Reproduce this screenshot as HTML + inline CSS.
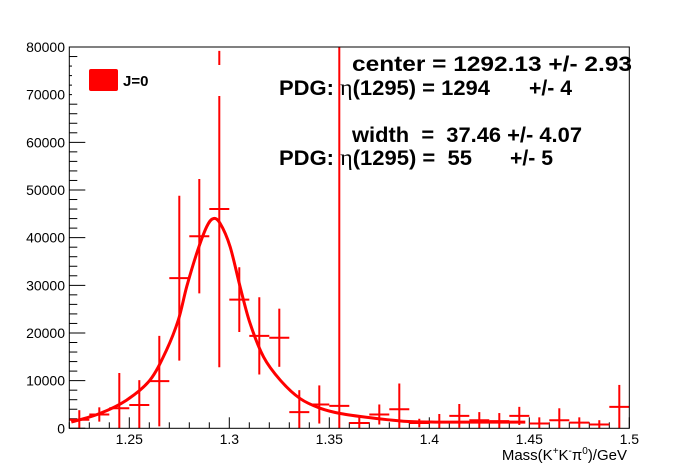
<!DOCTYPE html>
<html><head><meta charset="utf-8"><style>
html,body{margin:0;padding:0;background:#fff;width:698px;height:476px;overflow:hidden}
svg{display:block;font-family:"Liberation Sans",sans-serif}
</style></head><body>
<svg id="chart" width="698" height="476" viewBox="0 0 698 476">
<rect width="698" height="476" fill="#fff"/>
<g id="ticks"></g>
<g id="curve"></g>
<g id="pts"></g>
<rect x="72" y="65" width="160" height="31" fill="#fff"/>
<rect x="89" y="69" width="29" height="22" rx="2" fill="#ff0000"/>
<text x="123" y="86" font-size="15" font-weight="bold">J=0</text>
<rect x="69.3" y="47" width="560" height="381.3" fill="none" stroke="#000" stroke-width="1"/>
<g font-weight="bold" font-size="21">
<text x="352" y="71" xml:space="preserve" textLength="280" lengthAdjust="spacingAndGlyphs">center = 1292.13 +/- 2.93</text>
<text x="279" y="95" textLength="211" lengthAdjust="spacingAndGlyphs">PDG: <tspan font-family="Liberation Serif" font-weight="normal" font-size="23">η</tspan>(1295) = 1294</text>
<text x="529" y="95" textLength="43" lengthAdjust="spacingAndGlyphs">+/- 4</text>
<text x="352" y="142" xml:space="preserve" textLength="230" lengthAdjust="spacingAndGlyphs">width  =  37.46 +/- 4.07</text>
<text x="279" y="165" xml:space="preserve" textLength="193" lengthAdjust="spacingAndGlyphs">PDG: <tspan font-family="Liberation Serif" font-weight="normal" font-size="23">η</tspan>(1295) =  55</text>
<text x="510" y="165" textLength="43" lengthAdjust="spacingAndGlyphs">+/- 5</text>
</g>
<text x="627" y="460" font-size="15" text-anchor="end">Mass(K<tspan font-size="10" dy="-6">+</tspan><tspan dy="6">K</tspan><tspan font-size="10" dy="-6">-</tspan><tspan dy="6">π</tspan><tspan font-size="10" dy="-6">0</tspan><tspan dy="6">)/GeV</tspan></text>
</svg>
<script>
const binCenters=[1.225,1.235,1.245,1.255,1.265,1.275,1.285,1.295,1.305,1.315,1.325,1.335,1.345,1.355,1.365,1.375,1.385,1.395,1.405,1.415,1.425,1.435,1.445,1.455,1.465,1.475,1.485,1.495];
const counts=[1800,2900,4200,4900,9900,31500,40300,46000,27000,19400,19000,3400,5000,4700,1100,2900,4000,1100,1300,2600,1700,1500,2600,1000,1700,1200,800,4500];
const errors=[2000,1500,7400,5200,9500,17300,12000,33200,6800,8100,6100,4600,4000,90000,1300,2100,5400,900,1700,2500,1700,1700,1900,1300,2500,1100,900,4600];
const fitX=[1.221,1.2352,1.2486,1.2603,1.2686,1.2745,1.2787,1.2837,1.2887,1.292,1.2954,1.3004,1.3054,1.3104,1.3171,1.3255,1.3355,1.3455,1.3555,1.3706,1.387,1.404,1.43,1.448];
const fitY=[1300,3100,5900,10100,16400,22700,29700,36700,42300,44000,43000,38100,29700,22000,15000,10100,6200,4200,3100,2200,1500,1300,1300,1300];
const xTicks=[1.25,1.3,1.35,1.4,1.45,1.5];
const xTickLabels=["1.25","1.3","1.35","1.4","1.45","1.5"];
const yTicks=[0,10000,20000,30000,40000,50000,60000,70000,80000];
const yTickLabels=["0","10000","20000","30000","40000","50000","60000","70000","80000"];
const X0=69.3,X1=629.3,Y0=428.3,Y1=47,xmin=1.22,xmax=1.5,ymax=80000,binW=0.01;
const xs=v=>X0+(v-xmin)/(xmax-xmin)*(X1-X0);
const ys=v=>Y0-v/ymax*(Y0-Y1);
const NS="http://www.w3.org/2000/svg";
function mk(tag,attrs,parent){const e=document.createElementNS(NS,tag);for(const k in attrs)e.setAttribute(k,attrs[k]);parent.appendChild(e);return e;}
const tg=document.getElementById('ticks');
for(let v=xmin;v<=xmax+1e-9;v+=0.01){
  const major=Math.abs(v*20-Math.round(v*20))<1e-6;
  const t=mk('line',{x1:xs(v),x2:xs(v),y1:Y0,y2:Y0-(major?11:6),stroke:'#000'},tg);
  
  
}
xTicks.forEach((v,i)=>{const t=mk('text',{x:xs(v),y:444,'font-size':14,'text-anchor':'middle'},tg);t.textContent=xTickLabels[i];
  
  });
for(let v=0;v<=ymax;v+=2000){
  const major=v%10000===0;
  const t=mk('line',{x1:X0,x2:X0+(major?16:8),y1:ys(v),y2:ys(v),stroke:'#000'},tg);
  
  
}
yTicks.forEach((v,i)=>{const t=mk('text',{x:65,y:ys(v)+5,'font-size':14,'text-anchor':'end'},tg);t.textContent=yTickLabels[i];
  
  });
const cg=document.getElementById('curve');
const P=fitX.map((x,i)=>[xs(x),ys(fitY[i])]);
let d='M'+P[0][0].toFixed(1)+' '+P[0][1].toFixed(1);
for(let i=0;i<P.length-1;i++){
  const p0=P[Math.max(0,i-1)],p1=P[i],p2=P[i+1],p3=P[Math.min(P.length-1,i+2)];
  const c1=[p1[0]+(p2[0]-p0[0])/6,p1[1]+(p2[1]-p0[1])/6],c2=[p2[0]-(p3[0]-p1[0])/6,p2[1]-(p3[1]-p1[1])/6];
  d+='C'+c1[0].toFixed(1)+' '+c1[1].toFixed(1)+' '+c2[0].toFixed(1)+' '+c2[1].toFixed(1)+' '+p2[0].toFixed(1)+' '+p2[1].toFixed(1);
}
const p=mk('path',{d:d,fill:'none',stroke:'#ff0000','stroke-width':3,'stroke-linejoin':'round'},cg);


const pg=document.getElementById('pts');
binCenters.forEach((c,i)=>{
  const g=mk('g',{},pg);
  
  
  const top=Math.max(Y1,ys(counts[i]+errors[i])),bot=Math.min(Y0,ys(counts[i]-errors[i]));
  mk('line',{x1:xs(c),x2:xs(c),y1:top,y2:bot,stroke:'#ff0000','stroke-width':2},g);
  mk('line',{x1:xs(c-binW/2),x2:xs(c+binW/2),y1:ys(counts[i]),y2:ys(counts[i]),stroke:'#ff0000','stroke-width':2},g);
});
</script>
</body></html>
